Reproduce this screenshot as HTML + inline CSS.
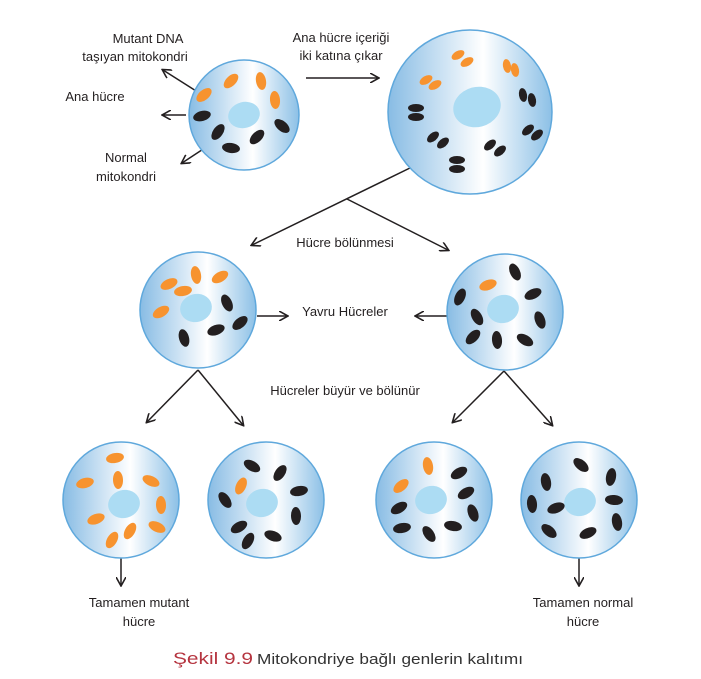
<!DOCTYPE html>
<html><head><meta charset="utf-8"><style>
html,body{margin:0;padding:0;background:#fff;}
svg{display:block;}
text{font-family:"Liberation Sans","DejaVu Sans",sans-serif;font-size:13px;fill:#231f20;}
</style></head><body>
<svg width="701" height="679" viewBox="0 0 701 679" xmlns="http://www.w3.org/2000/svg">
<defs>
<linearGradient id="g" x1="0" y1="0" x2="1" y2="0">
<stop offset="0" stop-color="#88bce4"/><stop offset="0.58" stop-color="#ffffff"/><stop offset="1" stop-color="#8cc0e6"/>
</linearGradient>
<marker id="a" markerWidth="10" markerHeight="10" refX="8" refY="5" orient="auto" markerUnits="userSpaceOnUse">
<path d="M0,0 L9,5 L0,10" fill="none" stroke="#231f20" stroke-width="1.6"/>
</marker>
</defs>
<g stroke="#231f20" stroke-width="1.5" fill="none">
<line x1="204" y1="96" x2="163" y2="70" marker-end="url(#a)"/>
<line x1="186" y1="115" x2="163" y2="115" marker-end="url(#a)"/>
<line x1="217" y1="140" x2="182" y2="163" marker-end="url(#a)"/>
<line x1="306" y1="78" x2="378" y2="78" marker-end="url(#a)"/>
<line x1="412" y1="167" x2="252" y2="245" marker-end="url(#a)"/>
<line x1="347" y1="199" x2="448" y2="250" marker-end="url(#a)"/>
<line x1="257" y1="316" x2="287" y2="316" marker-end="url(#a)"/>
<line x1="447" y1="316" x2="416" y2="316" marker-end="url(#a)"/>
<line x1="198" y1="370" x2="147" y2="422" marker-end="url(#a)"/>
<line x1="198" y1="370" x2="243" y2="425" marker-end="url(#a)"/>
<line x1="504" y1="371" x2="453" y2="422" marker-end="url(#a)"/>
<line x1="504" y1="371" x2="552" y2="425" marker-end="url(#a)"/>
<line x1="121" y1="558" x2="121" y2="585" marker-end="url(#a)"/>
<line x1="579" y1="558" x2="579" y2="585" marker-end="url(#a)"/>
</g>

<g transform="translate(244,115)">
<circle r="55" fill="url(#g)" stroke="#5fa8dc" stroke-width="1.5"/>
<ellipse cx="0" cy="0" rx="16" ry="13" transform="rotate(-15)" fill="#acdcf3"/>
<g fill="#f7932f">
<ellipse rx="9" ry="5" transform="translate(-40,-20) rotate(-40)"/>
<ellipse rx="9" ry="5" transform="translate(-13,-34) rotate(-45)"/>
<ellipse rx="9" ry="5" transform="translate(17,-34) rotate(80)"/>
<ellipse rx="9" ry="5" transform="translate(31,-15) rotate(85)"/>
</g>
<g fill="#231f20">
<ellipse rx="9" ry="5" transform="translate(-42,1) rotate(-15)"/>
<ellipse rx="9" ry="5" transform="translate(-26,17) rotate(-55)"/>
<ellipse rx="9" ry="5" transform="translate(-13,33) rotate(8)"/>
<ellipse rx="9" ry="5" transform="translate(13,22) rotate(-45)"/>
<ellipse rx="9" ry="5" transform="translate(38,11) rotate(40)"/>
</g>
</g>

<g transform="translate(470,112)">
<circle r="82" fill="url(#g)" stroke="#5fa8dc" stroke-width="1.5"/>
<ellipse cx="7" cy="-5" rx="24" ry="20" transform="rotate(-15 7 -5)" fill="#acdcf3"/>
<g fill="#f7932f">
<ellipse rx="7" ry="4" transform="translate(-12,-57) rotate(-30)"/>
<ellipse rx="7" ry="4" transform="translate(-3,-50) rotate(-30)"/>
<ellipse rx="7" ry="4" transform="translate(37,-46) rotate(80)"/>
<ellipse rx="7" ry="4" transform="translate(45,-42) rotate(80)"/>
<ellipse rx="7" ry="4" transform="translate(-44,-32) rotate(-30)"/>
<ellipse rx="7" ry="4" transform="translate(-35,-27) rotate(-30)"/>
</g>
<g fill="#231f20">
<ellipse rx="8" ry="4" transform="translate(-54,-4)"/>
<ellipse rx="8" ry="4" transform="translate(-54,5)"/>
<ellipse rx="7" ry="4" transform="translate(53,-17) rotate(80)"/>
<ellipse rx="7" ry="4" transform="translate(62,-12) rotate(80)"/>
<ellipse rx="7" ry="4" transform="translate(-37,25) rotate(-40)"/>
<ellipse rx="7" ry="4" transform="translate(-27,31) rotate(-40)"/>
<ellipse rx="7" ry="4" transform="translate(58,18) rotate(-40)"/>
<ellipse rx="7" ry="4" transform="translate(67,23) rotate(-40)"/>
<ellipse rx="7" ry="4" transform="translate(20,33) rotate(-40)"/>
<ellipse rx="7" ry="4" transform="translate(30,39) rotate(-40)"/>
<ellipse rx="8" ry="4" transform="translate(-13,48)"/>
<ellipse rx="8" ry="4" transform="translate(-13,57)"/>
</g>
</g>

<g transform="translate(198,310)">
<circle r="58" fill="url(#g)" stroke="#5fa8dc" stroke-width="1.5"/>
<ellipse cx="-2" cy="-2" rx="16" ry="14" transform="rotate(-15 -2 -2)" fill="#acdcf3"/>
<g fill="#f7932f">
<ellipse rx="9" ry="5" transform="translate(-29,-26) rotate(-25)"/>
<ellipse rx="9" ry="5" transform="translate(-15,-19) rotate(-10)"/>
<ellipse rx="9" ry="5" transform="translate(-2,-35) rotate(80)"/>
<ellipse rx="9" ry="5" transform="translate(22,-33) rotate(-30)"/>
<ellipse rx="9" ry="5" transform="translate(-37,2) rotate(-30)"/>
</g>
<g fill="#231f20">
<ellipse rx="9" ry="5" transform="translate(29,-7) rotate(65)"/>
<ellipse rx="9" ry="5" transform="translate(42,13) rotate(-40)"/>
<ellipse rx="9" ry="5" transform="translate(18,20) rotate(-20)"/>
<ellipse rx="9" ry="5" transform="translate(-14,28) rotate(75)"/>
</g>
</g>

<g transform="translate(505,312)">
<circle r="58" fill="url(#g)" stroke="#5fa8dc" stroke-width="1.5"/>
<ellipse cx="-2" cy="-3" rx="16" ry="14" transform="rotate(-15 -2 -3)" fill="#acdcf3"/>
<ellipse rx="9" ry="5" transform="translate(-17,-27) rotate(-20)" fill="#f7932f"/>
<g fill="#231f20">
<ellipse rx="9" ry="5" transform="translate(10,-40) rotate(65)"/>
<ellipse rx="9" ry="5" transform="translate(28,-18) rotate(-25)"/>
<ellipse rx="9" ry="5" transform="translate(-45,-15) rotate(-65)"/>
<ellipse rx="9" ry="5" transform="translate(-28,5) rotate(60)"/>
<ellipse rx="9" ry="5" transform="translate(35,8) rotate(70)"/>
<ellipse rx="9" ry="5" transform="translate(-32,25) rotate(-45)"/>
<ellipse rx="9" ry="5" transform="translate(-8,28) rotate(85)"/>
<ellipse rx="9" ry="5" transform="translate(20,28) rotate(30)"/>
</g>
</g>

<g transform="translate(121,500)">
<circle r="58" fill="url(#g)" stroke="#5fa8dc" stroke-width="1.5"/>
<ellipse cx="3" cy="4" rx="16" ry="14" transform="rotate(-15 3 4)" fill="#acdcf3"/>
<g fill="#f7932f">
<ellipse rx="9" ry="5" transform="translate(-6,-42) rotate(-10)"/>
<ellipse rx="9" ry="5" transform="translate(-3,-20) rotate(88)"/>
<ellipse rx="9" ry="5" transform="translate(-36,-17) rotate(-15)"/>
<ellipse rx="9" ry="5" transform="translate(30,-19) rotate(25)"/>
<ellipse rx="9" ry="5" transform="translate(40,5) rotate(88)"/>
<ellipse rx="9" ry="5" transform="translate(-25,19) rotate(-20)"/>
<ellipse rx="9" ry="5" transform="translate(9,31) rotate(-60)"/>
<ellipse rx="9" ry="5" transform="translate(-9,40) rotate(-60)"/>
<ellipse rx="9" ry="5" transform="translate(36,27) rotate(25)"/>
</g>
</g>

<g transform="translate(266,500)">
<circle r="58" fill="url(#g)" stroke="#5fa8dc" stroke-width="1.5"/>
<ellipse cx="-4" cy="3" rx="16" ry="14" transform="rotate(-15 -4 3)" fill="#acdcf3"/>
<ellipse rx="9" ry="5" transform="translate(-25,-14) rotate(-65)" fill="#f7932f"/>
<g fill="#231f20">
<ellipse rx="9" ry="5" transform="translate(-14,-34) rotate(30)"/>
<ellipse rx="9" ry="5" transform="translate(14,-27) rotate(-55)"/>
<ellipse rx="9" ry="5" transform="translate(33,-9) rotate(-10)"/>
<ellipse rx="9" ry="5" transform="translate(-41,0) rotate(55)"/>
<ellipse rx="9" ry="5" transform="translate(30,16) rotate(88)"/>
<ellipse rx="9" ry="5" transform="translate(-27,27) rotate(-30)"/>
<ellipse rx="9" ry="5" transform="translate(7,36) rotate(20)"/>
<ellipse rx="9" ry="5" transform="translate(-18,41) rotate(-60)"/>
</g>
</g>

<g transform="translate(434,500)">
<circle r="58" fill="url(#g)" stroke="#5fa8dc" stroke-width="1.5"/>
<ellipse cx="-3" cy="0" rx="16" ry="14" transform="rotate(-15 -3 0)" fill="#acdcf3"/>
<g fill="#f7932f">
<ellipse rx="9" ry="5" transform="translate(-6,-34) rotate(80)"/>
<ellipse rx="9" ry="5" transform="translate(-33,-14) rotate(-40)"/>
</g>
<g fill="#231f20">
<ellipse rx="9" ry="5" transform="translate(25,-27) rotate(-30)"/>
<ellipse rx="9" ry="5" transform="translate(32,-7) rotate(-30)"/>
<ellipse rx="9" ry="5" transform="translate(-35,8) rotate(-30)"/>
<ellipse rx="9" ry="5" transform="translate(39,13) rotate(70)"/>
<ellipse rx="9" ry="5" transform="translate(-32,28) rotate(-10)"/>
<ellipse rx="9" ry="5" transform="translate(19,26) rotate(10)"/>
<ellipse rx="9" ry="5" transform="translate(-5,34) rotate(55)"/>
</g>
</g>

<g transform="translate(579,500)">
<circle r="58" fill="url(#g)" stroke="#5fa8dc" stroke-width="1.5"/>
<ellipse cx="1" cy="2" rx="16" ry="14" transform="rotate(-15 1 2)" fill="#acdcf3"/>
<g fill="#231f20">
<ellipse rx="9" ry="5" transform="translate(2,-35) rotate(40)"/>
<ellipse rx="9" ry="5" transform="translate(32,-23) rotate(-80)"/>
<ellipse rx="9" ry="5" transform="translate(-33,-18) rotate(80)"/>
<ellipse rx="9" ry="5" transform="translate(35,0) rotate(5)"/>
<ellipse rx="9" ry="5" transform="translate(-47,4) rotate(85)"/>
<ellipse rx="9" ry="5" transform="translate(-23,8) rotate(-20)"/>
<ellipse rx="9" ry="5" transform="translate(38,22) rotate(80)"/>
<ellipse rx="9" ry="5" transform="translate(-30,31) rotate(40)"/>
<ellipse rx="9" ry="5" transform="translate(9,33) rotate(-25)"/>
</g>
</g>

<g text-anchor="middle">
<text x="148" y="43">Mutant DNA</text>
<text x="135" y="61">taşıyan mitokondri</text>
<text x="95" y="101">Ana hücre</text>
<text x="126" y="162">Normal</text>
<text x="126" y="181">mitokondri</text>
<text x="341" y="42">Ana hücre içeriği</text>
<text x="341" y="60">iki katına çıkar</text>
<text x="345" y="247">Hücre bölünmesi</text>
<text x="345" y="316">Yavru Hücreler</text>
<text x="345" y="395">Hücreler büyür ve bölünür</text>
<text x="139" y="607">Tamamen mutant</text>
<text x="139" y="626">hücre</text>
<text x="583" y="607">Tamamen normal</text>
<text x="583" y="626">hücre</text>
</g>
<text x="173" y="664" textLength="80" lengthAdjust="spacingAndGlyphs" style="font-size:17px;fill:#b5343f">Şekil 9.9</text>
<text x="257" y="664" textLength="266" lengthAdjust="spacingAndGlyphs" style="font-size:15px;fill:#333">Mitokondriye bağlı genlerin kalıtımı</text>
</svg>
</body></html>
